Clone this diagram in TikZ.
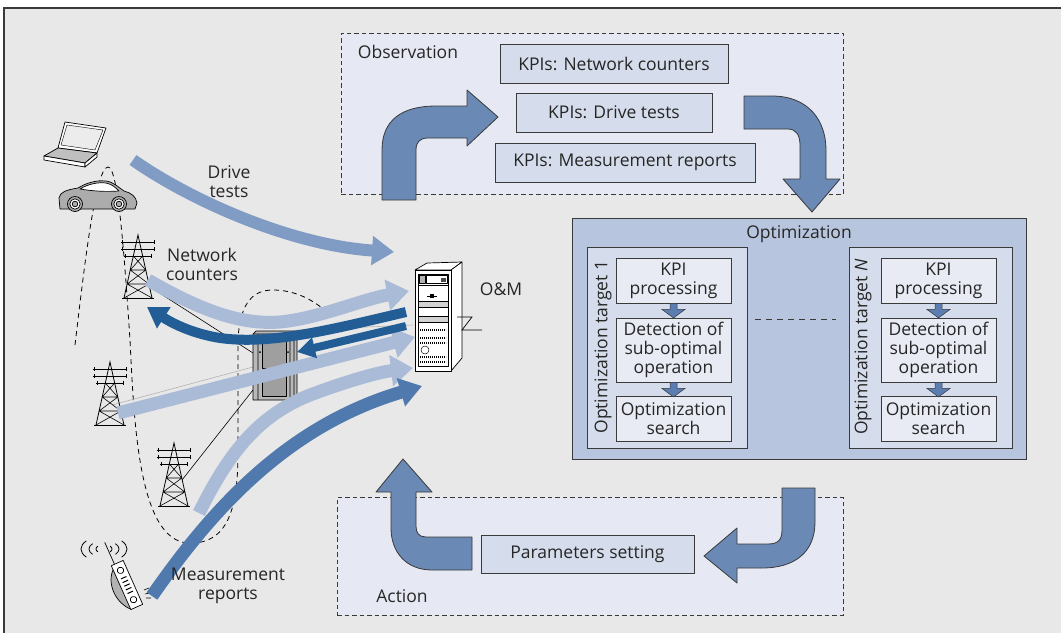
\documentclass[tikz,border=0pt]{standalone}
\usepackage{fontspec}
\setmainfont{Open Sans}
\usetikzlibrary{arrows.meta,calc}

\definecolor{bggray}{HTML}{E7E8E7}
\definecolor{panelfill}{HTML}{E6E9F3}
\definecolor{kpifill}{HTML}{D5DCEB}
\definecolor{optfill}{HTML}{B8C5DE}
\definecolor{innerfill}{HTML}{E8EBF4}
\definecolor{bigblue}{HTML}{6A89B5}
\definecolor{smallblue}{HTML}{5B7DB1}
\definecolor{edge}{HTML}{3A3A3A}
\definecolor{txt}{HTML}{262626}
\definecolor{flowmid}{HTML}{809BC4}
\definecolor{flowlight}{HTML}{AABBD8}
\definecolor{flowdark}{HTML}{235D96}
\definecolor{flowmed}{HTML}{5079AD}

\tikzset{
  framebox/.style={draw=edge, line width=0.9pt, inner sep=0pt, text=txt},
  kpibox/.style={framebox, fill=kpifill, minimum height=39pt},
  innerbox/.style={framebox, fill=innerfill, minimum width=115pt, align=center},
  dashbox/.style={draw=edge, fill=panelfill, line width=0.8pt, dash pattern=on 4.5pt off 3pt, inner sep=0pt},
  bigarrow/.style={fill=bigblue, draw=edge, line width=0.8pt, line join=round},
  smallarrow/.style={fill=smallblue, draw=edge, line width=0.5pt},
  lbl/.style={text=txt, align=center, inner sep=0pt},
  flow/.style={line width=#1, line cap=butt},
  icon/.style={draw=black, line width=0.7pt, line join=round},
  pics/tower/.style={code={
    \draw[line width=0.8pt] (-14,63) -- (0,0) -- (14,63);
    \draw[line width=0.8pt] (-16,63) -- (16,63);
    \foreach \yy/\w in {7/17,14/17,21/14}{
      \draw[line width=0.7pt] (-\w,\yy) -- (\w,\yy);
      \draw[line width=0.6pt] (-\w+1,\yy-2) -- (-\w+1,\yy+2) (\w-1,\yy-2) -- (\w-1,\yy+2);
    }
    \draw[line width=0.6pt] (-4.67,21) -- (7.8,35) (4.67,21) -- (-7.8,35)
      (-7.8,35) -- (10.9,49) (7.8,35) -- (-10.9,49)
      (-10.9,49) -- (14,63) (10.9,49) -- (-14,63)
      (-7.8,35) -- (7.8,35) (-10.9,49) -- (10.9,49);
  }}
}

\begin{document}
\begin{tikzpicture}[x=1pt,y=-1pt,font=\fontsize{17.5}{19}\selectfont]
\useasboundingbox (0,0) rectangle (1061,633);
\fill[white] (0,0) rectangle (1061,633);
\fill[bggray] (4,8) rectangle (1061,633);
\draw[edge, line width=1.2pt] (4,633) -- (4,8) -- (1061,8);

% ---------- Observation ----------
\node[dashbox, minimum width=502pt, minimum height=161pt] (obs) at (592,113.5) {};
\node[lbl] (obslabel) at (408,52) {Observation};
\node[kpibox, minimum width=228pt] (kpinet) at (614,63.5) {KPIs: Network counters};
\node[kpibox, minimum width=196pt] (kpidrive) at (614,112.5) {KPIs: Drive tests};
\node[kpibox, minimum width=260pt] (kpimeas) at (625,162.5) {KPIs: Measurement reports};

% ---------- Action ----------
\node[dashbox, minimum width=506pt, minimum height=118pt] (act) at (590,556) {};
\node[lbl] (actlabel) at (402,596) {Action};
\node[kpibox, minimum width=213pt, minimum height=38pt] (params) at (587.5,554) {Parameters setting};

% ---------- Optimization ----------
\node[framebox, fill=optfill, minimum width=454pt, minimum height=241pt] (opt) at (799,338.5) {};
\node[lbl] (optlabel) at (799,234) {Optimization};
\node[framebox, fill=kpifill, minimum width=160pt, minimum height=201pt] (t1) at (667,347.5) {};
\node[framebox, fill=kpifill, minimum width=163pt, minimum height=201pt] (tN) at (930.5,347.5) {};
\node[lbl, rotate=90] (t1label) at (603,347) {Optimization target 1};
\node[lbl, rotate=90] (tNlabel) at (863,347) {Optimization target {\itshape N}};

\node[innerbox, minimum height=45pt] (k1) at (673.5,280.5) {KPI\\processing};
\node[innerbox, minimum height=64pt] (d1) at (673.5,350) {Detection of\\sub-optimal\\operation};
\node[innerbox, minimum height=45pt] (s1) at (673.5,418.5) {Optimization\\search};
\node[innerbox, minimum height=45pt] (kN) at (938.5,280.5) {KPI\\processing};
\node[innerbox, minimum height=64pt] (dN) at (938.5,350) {Detection of\\sub-optimal\\operation};
\node[innerbox, minimum height=45pt] (sN) at (938.5,418.5) {Optimization\\search};

\foreach \a in {k1,d1,kN,dN}{
  \path[smallarrow, shift={(\a.south)}] (-3.5,0) -- (-3.5,6) -- (-11.5,6) -- (0,14.5) -- (11.5,6) -- (3.5,6) -- (3.5,0) -- cycle;
}
\draw[edge, line width=0.8pt, dash pattern=on 6pt off 5pt]
  ($(t1.east)+(8,-28.5)$) -- ($(tN.west)+(-13,-28.5)$);

% ---------- loop arrows ----------
\path[bigarrow] (382,200) -- (382,150) .. controls (382,120) and (402,106) .. (436,106)
  -- (467,106) -- (467,90) -- (498,117) -- (467,146) -- (467,138) -- (428,138)
  .. controls (420,138) and (416,142) .. (416,150) -- (416,200) -- cycle;
\path[bigarrow] (744,96) -- (772,96) .. controls (808,96) and (826,120) .. (826,150)
  -- (826,179) -- (840,179) -- (812,212) -- (783,179) -- (800,179) -- (800,145)
  .. controls (800,135) and (796,129) .. (788,129) -- (744,129) -- cycle;
\path[bigarrow] (782,488) -- (815,488) -- (815,522) .. controls (815,552) and (795,568) .. (762,568)
  -- (737,568) -- (737,583) -- (704,556) -- (737,528) -- (737,544) -- (768,544)
  .. controls (778,544) and (782,540) .. (782,530) -- cycle;
\path[bigarrow] (472,537) -- (472,570) -- (432,570) .. controls (406,570) and (391,552) .. (391,528)
  -- (391,492) -- (376,492) -- (403,459) -- (432,492) -- (416,492) -- (416,526)
  .. controls (416,533) and (419,537) .. (426,537) -- cycle;

% ---------- radio network ----------
% coverage outline
\draw[black, line width=0.8pt, dash pattern=on 5pt off 4pt]
  (75,345) .. controls (85,260) and (96,167) .. (108,167)
  .. controls (118,167) and (124,250) .. (130,340)
  .. controls (134,420) and (138,540) .. (188,543)
  .. controls (232,545) and (238,500) .. (238,450) -- (238,340)
  .. controls (240,300) and (255,290) .. (273,290)
  .. controls (295,290) and (312,300) .. (322,308);

% backhaul links
\draw[black, line width=0.6pt] (147,285) -- (253,353);
\draw[black, line width=0.6pt] (182,480) -- (253,390);
\draw[gray!60, line width=0.6pt] (112,405) -- (253,367);
\draw[gray!60, line width=0.6pt] (297,330) -- (413,325);

% towers
\pic at (138,235) {tower};
\pic at (110,362) {tower};
\pic at (174,443) {tower};

% laptop
\filldraw[icon, fill=white] (58,148) -- (65,122) -- (106,128) -- (97,153) -- cycle;
\filldraw[icon, fill=gray!15, line width=0.4pt] (61,145) -- (67,125) -- (103,130) -- (95,150) -- cycle;
\filldraw[icon, fill=gray!50] (44,156) -- (58,148) -- (97,153) -- (85,163) -- cycle;
\filldraw[icon, fill=white] (44,156) -- (85,163) -- (85,167) -- (44,160) -- cycle;
\filldraw[icon, fill=white] (85,163) -- (97,153) -- (97,157) -- (85,167) -- cycle;

% car
\filldraw[icon, fill=gray!65] (60,209) -- (59,198) .. controls (60,192) and (66,190) .. (78,188)
  .. controls (86,183) and (96,180) .. (106,181) .. controls (114,182) and (119,188) .. (124,191)
  .. controls (131,193) and (136,196) .. (137,203) -- (135,209) -- cycle;
\filldraw[icon, fill=white] (80,189) .. controls (88,184) and (98,182) .. (106,183)
  .. controls (112,184) and (116,188) .. (119,191) .. controls (105,192) and (92,191) .. (80,189) -- cycle;
\foreach \wx in {75,119}{
  \filldraw[icon, fill=gray!65] (\wx,204) circle (7.5);
  \filldraw[icon, fill=white] (\wx,204) circle (5.2);
  \filldraw[icon, fill=gray!65] (\wx,204) circle (2.8);
}

% handset
\begin{scope}[shift={(127,585)}, rotate=24]
  \filldraw[icon, fill=gray!60] (-6,-20) .. controls (-18,-10) and (-18,12) .. (-6,24) -- cycle;
  \filldraw[icon, fill=white] (-6.5,-24) rectangle (6.5,24);
  \draw[icon] (0,-16) circle (3.2) (0,16) circle (3.2);
  \foreach \ky in {-8,-4,0,4,8}{\draw[line width=1pt] (-3,\ky) -- (3,\ky);}
  \draw[icon] (-3,-24) -- (-3,-48);
\end{scope}
\foreach \r in {8,15,23}{
  \draw[black, line width=0.8pt] (104,549) ++(140:{\r} and {0.55*\r}) arc[start angle=140, end angle=220, x radius=\r, y radius=0.55*\r];
  \draw[black, line width=0.8pt] (104,549) ++(-40:{\r} and {0.55*\r}) arc[start angle=-40, end angle=40, x radius=\r, y radius=0.55*\r];
}
\draw[black, line width=0.6pt] (144,590) -- (149,588) (145,594) -- (150,593) (146,598) -- (151,598);

% cabinet
\filldraw[icon, fill=gray!55] (253,334) -- (256,331) -- (297,331) -- (297,400) -- (253,400) -- cycle;
\draw[icon] (253,334) -- (294,334) -- (297,331) (294,334) -- (294,400) (258,334) -- (258,400) (290,334) -- (290,400);
\filldraw[icon, fill=gray!75, line width=0.5pt] (262,338) rectangle (286,368);
\filldraw[icon, fill=gray!75, line width=0.5pt] (262,372) rectangle (286,396);
\fill[black] (260,352) circle (1) (288,352) circle (1);

% O&M server
\filldraw[icon, fill=white] (415,270) -- (427,263) -- (462,262) -- (451,270) -- cycle;
\filldraw[icon, fill=white] (451,270) -- (462,262) -- (462,358) -- (451,371) -- cycle;
\filldraw[icon, fill=white] (415,270) rectangle (451,371);
\draw[icon, line width=0.5pt] (418,274) rectangle (448,366);
\filldraw[icon, fill=gray!60, line width=0.4pt] (419,275) rectangle (425,283);
\draw[icon, line width=0.4pt] (426,275) rectangle (447,283);
\fill[black!70] (441,278) rectangle (446,282);
\draw[icon, line width=0.5pt] (418,285) -- (448,285);
\draw[black, line width=0.8pt] (427,296) -- (437,296);
\fill[black] (430,294) rectangle (434,298);
\filldraw[icon, fill=gray!35, line width=0.4pt] (418,301) rectangle (448,307);
\filldraw[icon, fill=gray!35, line width=0.4pt] (418,316) rectangle (448,322);
\foreach \ry in {330,338,343,357,362}{
  \draw[black, line width=2pt, dash pattern=on 1.2pt off 0.8pt] (420,\ry) -- (446,\ry);
}
\draw[icon, line width=0.5pt] (425,350) circle (4);
\node[inner sep=0pt, minimum width=36pt, minimum height=101pt] (srv) at (433,320.5) {};
\draw[black, line width=0.7pt] (457,317) -- (472,317) -- (462,330) -- (482,330);
\node[lbl] (oml) at (501,289) {O\&M};

% ---------- data flows ----------
\coordinate (dtStart) at (133,160);
\coordinate (dtEnd) at (394,252);
\coordinate (ncStart) at (148,280);
\coordinate (ncEnd) at (409,291);
\coordinate (fbStart) at (406,312);
\coordinate (fbEnd) at (147,307);
\coordinate (fcStart) at (406,326);
\coordinate (fcEnd) at (297,352);
\coordinate (t2Start) at (118,413);
\coordinate (t2End) at (415,337);
\coordinate (t3Start) at (199,513);
\coordinate (t3End) at (413,368);
\coordinate (mrStart) at (152,596);
\coordinate (mrEnd) at (422,386);

\draw[flow=12pt, flowmid, -{Triangle[width=28pt,length=22pt]}]
  (dtStart) .. controls (190,200) and (290,245) .. (dtEnd);
\draw[flow=13pt, flowlight, -{Triangle[width=30pt,length=22pt]}]
  (ncStart) .. controls (200,310) and (240,325) .. (280,322) .. controls (320,318) and (360,300) .. (ncEnd);
\draw[flow=13pt, flowlight, -{Triangle[width=30pt,length=22pt]}]
  (t2Start) -- (t2End);
\draw[flow=13pt, flowlight, -{Triangle[width=30pt,length=22pt]}]
  (t3Start) .. controls (230,450) and (260,415) .. (310,395) .. controls (350,380) and (380,372) .. (t3End);
\draw[flow=10pt, flowdark, -{Triangle[width=24pt,length=20pt]}]
  (fbStart) .. controls (330,330) and (270,345) .. (220,338) .. controls (195,334) and (175,325) .. (fbEnd);
\draw[flow=8pt, flowdark, -{Triangle[width=20pt,length=18pt]}]
  (fcStart) -- (fcEnd);
\draw[flow=13pt, flowmed, -{Triangle[width=28pt,length=22pt]}]
  (mrStart) .. controls (215,505) and (290,425) .. (mrEnd);

% ---------- labels ----------
\node[lbl] (dtl) at (229,182) {Drive\\tests};
\node[lbl] (ncl) at (202,264) {Network\\counters};
\node[lbl] (mrl) at (228,586) {Measurement\\reports};
\end{tikzpicture}
\end{document}
